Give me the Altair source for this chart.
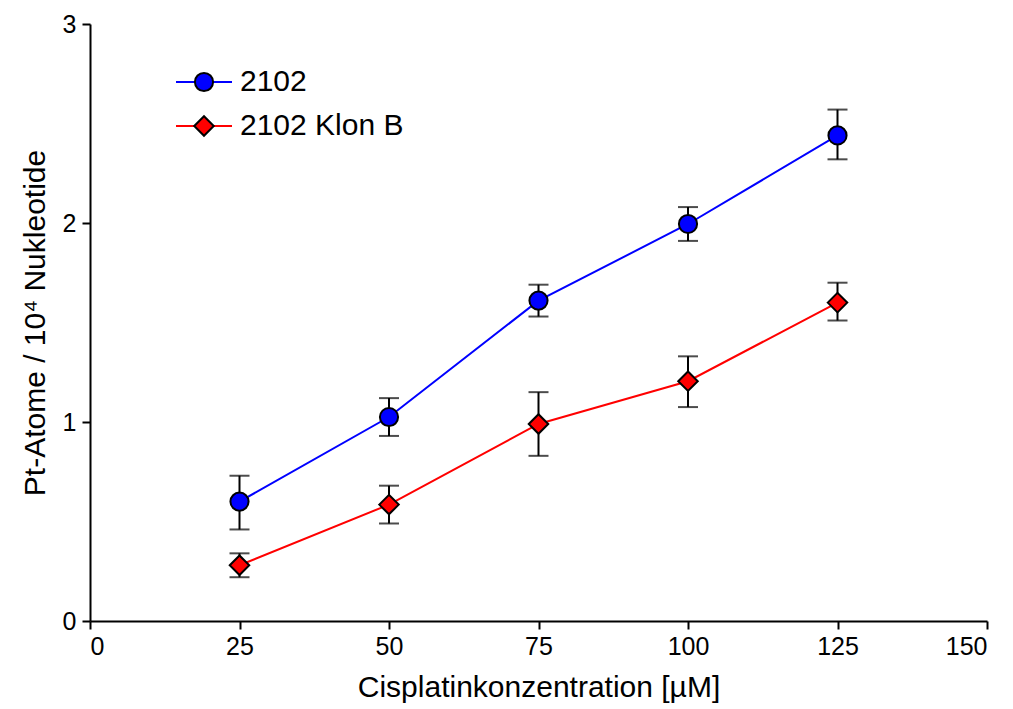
import altair as alt
import pandas as pd

conc = [25, 50, 75, 100, 125]
series_a = "2102"
series_b = "2102 Klon B"
mean_a = [0.60, 1.025, 1.61, 1.995, 2.44]
low_a = [0.46, 0.93, 1.53, 1.91, 2.32]
high_a = [0.73, 1.12, 1.69, 2.08, 2.57]
mean_b = [0.28, 0.585, 0.99, 1.205, 1.60]
low_b = [0.22, 0.49, 0.83, 1.075, 1.51]
high_b = [0.34, 0.68, 1.15, 1.33, 1.70]

rows = []
for i, c in enumerate(conc):
    rows.append({"c": c, "s": series_a, "m": mean_a[i], "lo": low_a[i], "hi": high_a[i]})
    rows.append({"c": c, "s": series_b, "m": mean_b[i], "lo": low_b[i], "hi": high_b[i]})
df = pd.DataFrame(rows)

FONT = "Liberation Sans"
W, H = 897, 597
xs = alt.Scale(domain=[0, 150], nice=False, zero=False)
ys = alt.Scale(domain=[0, 3], nice=False)
colors = alt.Scale(domain=[series_a, series_b], range=["#0000ff", "#ff0000"])

xax = alt.Axis(values=[0, 25, 50, 75, 100, 125, 150], title="Cisplatinkonzentration [µM]", format="d")
yax = alt.Axis(values=[0, 1, 2, 3], title="Pt-Atome / 10⁴ Nukleotide", format="d")

base = alt.Chart(df)
x = alt.X("c:Q", scale=xs, axis=xax)
y = alt.Y("m:Q", scale=ys, axis=yax)

lines = base.mark_line(strokeWidth=2).encode(
    x=x, y=y, color=alt.Color("s:N", scale=colors, legend=None), detail="s:N")
err = base.mark_rule(color="black", strokeWidth=2).encode(
    x=alt.X("c:Q", axis=xax), y=alt.Y("lo:Q", axis=yax), y2="hi:Q")
cap_lo = base.mark_tick(orient="horizontal", color="black", size=20, thickness=2).encode(
    x=alt.X("c:Q", axis=xax), y=alt.Y("lo:Q", axis=yax))
cap_hi = base.mark_tick(orient="horizontal", color="black", size=20, thickness=2).encode(
    x=alt.X("c:Q", axis=xax), y=alt.Y("hi:Q", axis=yax))
pts_a = alt.Chart(df[df.s == series_a]).mark_point(
    shape="circle", filled=True, fill="#0000ff", stroke="black", strokeWidth=2, size=330, opacity=1
).encode(x=alt.X("c:Q", axis=xax), y=alt.Y("m:Q", axis=yax))
pts_b = alt.Chart(df[df.s == series_b]).mark_point(
    shape="diamond", filled=True, fill="#ff0000", stroke="black", strokeWidth=2, size=380, opacity=1
).encode(x=alt.X("c:Q", axis=xax), y=alt.Y("m:Q", axis=yax))

# legend
leg = pd.DataFrame({"s": [series_a, series_b]})
la = alt.Chart(leg[leg.s == series_a])
lb = alt.Chart(leg[leg.s == series_b])
legend_layers = [
    la.mark_rule(color="#0000ff", strokeWidth=2).encode(x=alt.value(86), x2=alt.value(142), y=alt.value(58)),
    la.mark_point(shape="circle", filled=True, fill="#0000ff", stroke="black", strokeWidth=2, size=330, opacity=1)
      .encode(x=alt.value(114), y=alt.value(58)),
    la.mark_text(align="left", baseline="middle", font=FONT, fontSize=30, color="black")
      .encode(x=alt.value(150), y=alt.value(58), text="s:N"),
    lb.mark_rule(color="#ff0000", strokeWidth=2).encode(x=alt.value(86), x2=alt.value(142), y=alt.value(102)),
    lb.mark_point(shape="diamond", filled=True, fill="#ff0000", stroke="black", strokeWidth=2, size=380, opacity=1)
      .encode(x=alt.value(114), y=alt.value(102)),
    lb.mark_text(align="left", baseline="middle", font=FONT, fontSize=30, color="black")
      .encode(x=alt.value(150), y=alt.value(102), text="s:N"),
]

chart = alt.layer(lines, err, cap_lo, cap_hi, pts_a, pts_b, *legend_layers).properties(
    width=W, height=H,
    autosize=alt.AutoSizeParams(type="none"),
    padding={"left": 82, "top": 16, "right": 10, "bottom": 86},
    background="white",
).configure_view(stroke=None).configure_axis(
    grid=False, domainColor="black", domainWidth=2, tickColor="black", tickWidth=2,
    tickSize=8, labelFont=FONT, labelFontSize=25, labelColor="black", labelPadding=5,
    titleFont=FONT, titleFontSize=30, titleFontWeight="normal", titleColor="black",
).configure_axisX(titlePadding=13).configure_axisY(titlePadding=12, labelPadding=6)

chart.save("out.html", embed_options={"renderer": "svg", "actions": False})
